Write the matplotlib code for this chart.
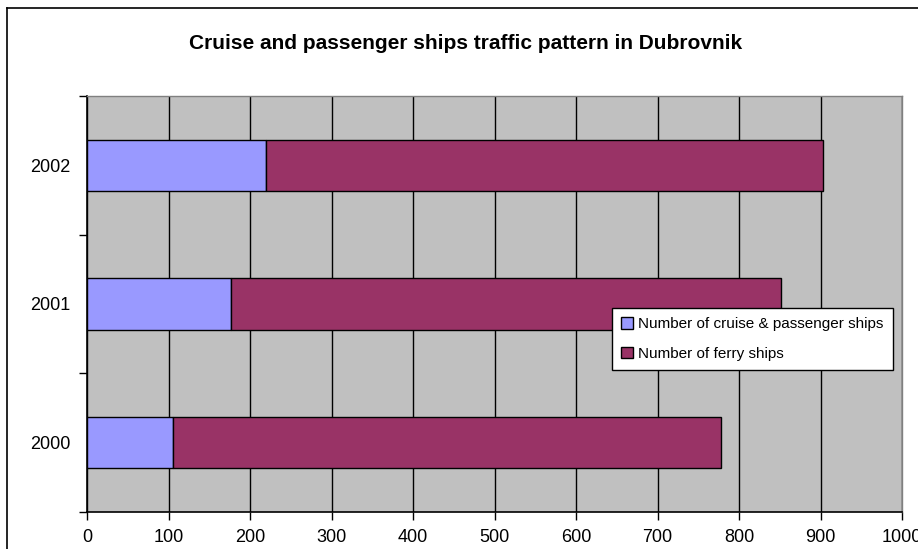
import matplotlib
matplotlib.use('Agg')
import matplotlib.pyplot as plt
from matplotlib import font_manager
from matplotlib.lines import Line2D
import numpy as np

# Data
years = ['2000', '2001', '2002']
cruise_ships = [105, 177, 220]
ferry_ships = [673, 674, 683]
series_names = ['Number of cruise & passenger ships', 'Number of ferry ships']
x_ticks = list(range(0, 1001, 100))

# Pick a narrow Arial-like font if one is around
available = {f.name for f in font_manager.fontManager.ttflist}
family = 'Liberation Sans Narrow' if 'Liberation Sans Narrow' in available else 'Liberation Sans'
plt.rcParams['font.family'] = [family, 'DejaVu Sans']

fig = plt.figure(figsize=(9.18, 5.49), dpi=100)
ax = fig.add_axes([87 / 918, 1 - 512 / 549, (902 - 87) / 918, (512 - 96) / 549])
ax.set_facecolor('#C0C0C0')

y = np.arange(len(years))
ax.barh(y, cruise_ships, height=0.37, color='#9999FF', edgecolor='black', linewidth=1,
        label=series_names[0], zorder=3)
ax.barh(y, ferry_ships, left=cruise_ships, height=0.37, color='#993366', edgecolor='black',
        linewidth=1, label=series_names[1], zorder=3)

ax.set_xlim(0, 1000)
ax.set_ylim(-0.5, len(years) - 0.5)
ax.set_xticks(x_ticks)
ax.set_xticklabels([str(t) for t in x_ticks], fontsize=13)
ax.tick_params(axis='x', direction='out', length=6, width=1, color='black', pad=6)

# y ticks at category boundaries, labels in the middle
ax.set_yticks(np.arange(-0.5, len(years), 1.0))
ax.set_yticklabels([])
ax.set_yticks(y, minor=True)
ax.set_yticklabels(years, minor=True, fontsize=13)
ax.tick_params(axis='y', which='major', direction='out', length=6, width=1, color='black')
ax.tick_params(axis='y', which='minor', length=0, pad=12)

ax.grid(axis='x', color='black', linewidth=1, zorder=1)
ax.set_axisbelow(True)
for side in ['left', 'bottom']:
    ax.spines[side].set_color('black')
    ax.spines[side].set_linewidth(1.2)
for side in ['top', 'right']:
    ax.spines[side].set_color('#808080')
    ax.spines[side].set_linewidth(1)

leg = ax.legend(loc='upper left', bbox_to_anchor=(612 / 918, 1 - 308 / 549),
                bbox_transform=fig.transFigure, fontsize=11, frameon=True, fancybox=False,
                edgecolor='black', framealpha=1, borderpad=0.6, labelspacing=1.0,
                handlelength=0.8, handleheight=0.8, handletextpad=0.3, borderaxespad=0)
leg.get_frame().set_linewidth(1)

fig.text(466 / 918, 1 - 44 / 549, 'Cruise and passenger ships traffic pattern in Dubrovnik',
         ha='center', va='center', fontsize=15, fontweight='bold')

# outer chart frame (cut off at the right and bottom)
fig.add_artist(Line2D([7 / 918, 7 / 918], [0, 1 - 8 / 549], transform=fig.transFigure,
                      color='black', linewidth=1.2))
fig.add_artist(Line2D([7 / 918, 1], [1 - 8 / 549, 1 - 8 / 549], transform=fig.transFigure,
                      color='black', linewidth=1.2))

fig.savefig('out.png', dpi=100)
